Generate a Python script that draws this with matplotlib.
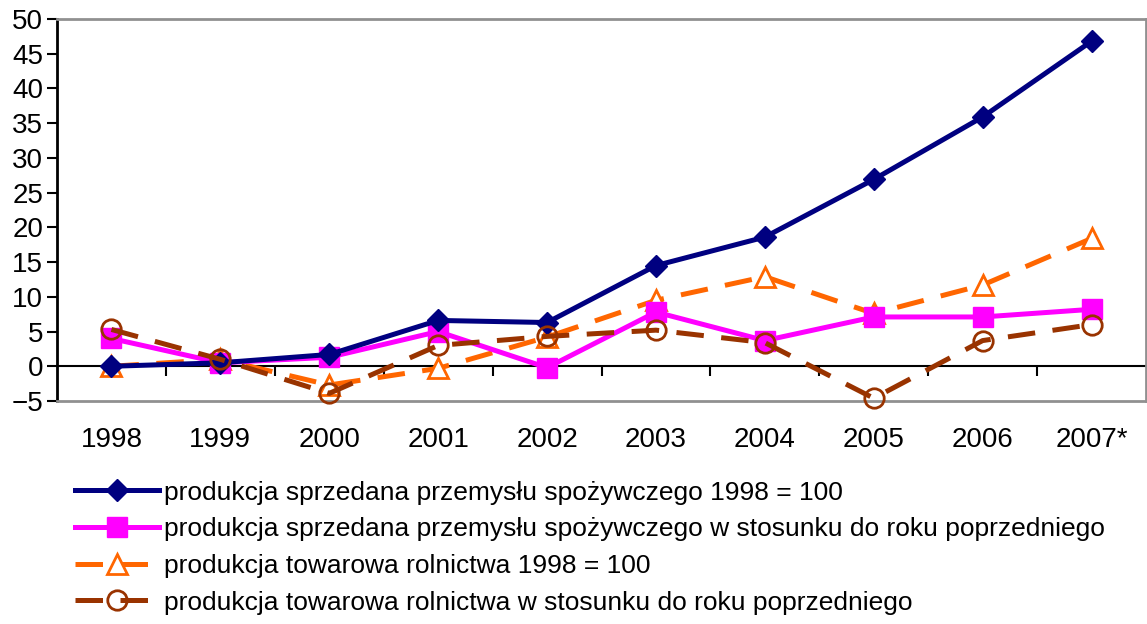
import matplotlib.pyplot as plt

plt.rcParams["font.family"] = ["Liberation Sans", "DejaVu Sans"]

# years on the category axis
years = ["1998", "1999", "2000", "2001", "2002", "2003", "2004", "2005", "2006", "2007*"]

# sold production of the food industry, 1998 = 100
food_index = [0, 0.5, 1.7, 6.6, 6.3, 14.5, 18.6, 26.9, 35.9, 46.8]
# sold production of the food industry, previous year = 100
food_yoy = [4.0, 0.5, 1.3, 5.0, -0.2, 7.8, 3.7, 7.1, 7.1, 8.2]
# market output of agriculture, 1998 = 100
agri_index = [0, 1.0, -2.7, -0.3, 4.2, 9.5, 12.9, 7.6, 11.7, 18.4]
# market output of agriculture, previous year = 100
agri_yoy = [5.3, 1.0, -3.9, 3.0, 4.3, 5.2, 3.4, -4.6, 3.7, 6.0]

labels = [
    "produkcja sprzedana przemysłu spożywczego 1998 = 100",
    "produkcja sprzedana przemysłu spożywczego w stosunku do roku poprzedniego",
    "produkcja towarowa rolnictwa 1998 = 100",
    "produkcja towarowa rolnictwa w stosunku do roku poprzedniego",
]

fig = plt.figure(figsize=(11.47, 6.24), dpi=100)
ax = fig.add_axes([57 / 1147, 1 - 401 / 624, 1089 / 1147, 382 / 624])

x = list(range(len(years)))
lw = 3.6
dash = (5.5, 3.5)

ax.plot(x, food_index, color="#000080", lw=lw, marker="D", ms=11,
        mec="#000080", mfc="#000080", label=labels[0], clip_on=False, zorder=5)
ax.plot(x, food_yoy, color="#FF00FF", lw=lw, marker="s", ms=14,
        mec="#FF00FF", mfc="#FF00FF", label=labels[1], clip_on=False, zorder=4)
ax.plot(x, agri_index, color="#FF6600", lw=lw, dashes=dash, marker="^", ms=15,
        mec="#FF6600", mfc="white", mew=2, label=labels[2], clip_on=False, zorder=3)
ax.plot(x, agri_yoy, color="#993300", lw=lw, dashes=dash, marker="o", ms=14,
        mec="#993300", mfc="none", mew=2, label=labels[3], clip_on=False, zorder=6)

ax.set_xlim(-0.5, len(years) - 0.5)
ax.set_ylim(-5, 50)
ax.set_yticks(range(-5, 51, 5))
ax.tick_params(axis="y", labelsize=20, length=7, width=1.5, direction="out", pad=3)
ax.set_xticks(x)
ax.set_xticklabels(years)
ax.tick_params(axis="x", labelsize=20, length=0, pad=19)

for side in ("top", "right", "bottom"):
    ax.spines[side].set_color("#909090")
    ax.spines[side].set_linewidth(2)
ax.spines["left"].set_color("black")
ax.spines["left"].set_linewidth(2)

# category axis drawn along the zero line with ticks between years
zero_axis = ax.secondary_xaxis(5 / 55)
zero_axis.set_xticks([i + 0.5 for i in range(len(years) - 1)])
zero_axis.set_xticklabels([])
zero_axis.tick_params(axis="x", direction="out", length=7, width=1.5, color="black")
zero_axis.spines["bottom"].set_color("black")
zero_axis.spines["bottom"].set_linewidth(1.5)

fig.legend(loc="upper left", bbox_to_anchor=(64 / 1147, 1 - 470 / 624),
           frameon=False, fontsize=19, handlelength=3.2, handletextpad=0.2,
           labelspacing=0.48, borderaxespad=0)

fig.savefig("out.png", dpi=100)
